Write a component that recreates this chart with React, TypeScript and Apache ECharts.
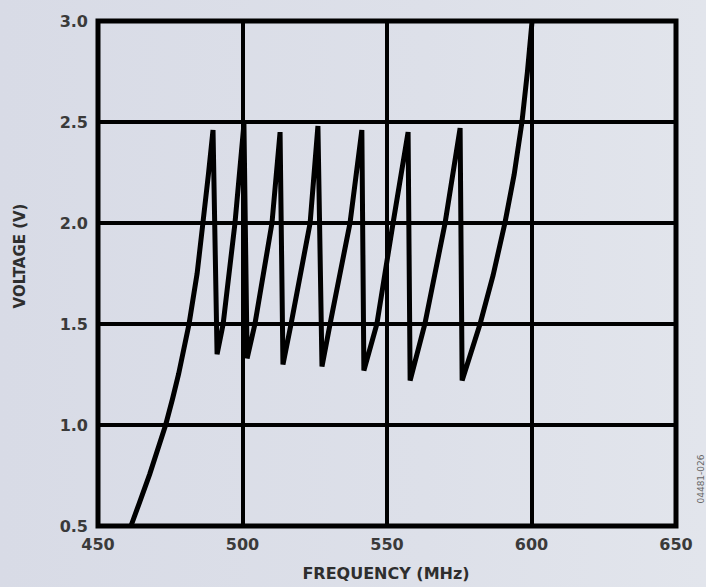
import React, { useEffect, useRef } from "react";
import * as echarts from "echarts";

// Tuning curve (frequency in MHz, voltage in V)
const freqMHz = [
  461.4, 464.2, 467.9, 473.4, 475.8, 477.9, 481.5, 484.3, 486.3, 488.2, 489.8,
  491.2, 493.3, 497.4, 500.5,
  501.6, 504.3, 510.2, 513.0,
  514.0, 516.8, 523.4, 526.1,
  527.5, 530.3, 537.2, 541.3,
  542.0, 546.5, 552.1, 557.3,
  558.0, 563.1, 570.1, 575.3,
  576.0, 582.2, 586.7, 590.8, 594.0, 596.7, 598.6, 600.2,
];
const voltage = [
  0.5, 0.61, 0.757, 1.0, 1.13, 1.253, 1.5, 1.75, 2.0, 2.24, 2.46,
  1.35, 1.5, 2.0, 2.49,
  1.33, 1.5, 2.0, 2.45,
  1.3, 1.5, 2.0, 2.48,
  1.29, 1.5, 2.0, 2.46,
  1.27, 1.5, 2.0, 2.45,
  1.22, 1.5, 2.0, 2.47,
  1.22, 1.5, 1.74, 2.0, 2.24, 2.5, 2.75, 3.0,
];

const xTickLabels = ["450", "500", "550", "600", "650"];
const yTickLabels = ["0.5", "1.0", "1.5", "2.0", "2.5", "3.0"];

const xTitle = "FREQUENCY (MHz)";
const yTitle = "VOLTAGE (V)";
const figureId = "04481-026";

export default function App() {
  const ref = useRef<HTMLDivElement>(null);

  useEffect(() => {
    if (!ref.current) return;
    const chart = echarts.init(ref.current, null, { renderer: "svg" });
    const data = freqMHz.map((f, i) => [f, voltage[i]]);
    const labelFont = {
      fontFamily: "DejaVu Sans",
      fontWeight: "bold" as const,
      fontSize: 16,
      color: "#3a3a3a",
    };
    chart.setOption({
      animation: false,
      backgroundColor: "transparent",
      grid: {
        left: 98,
        right: 30,
        top: 21,
        bottom: 61,
        show: true,
        borderColor: "#000",
        borderWidth: 5,
        backgroundColor: "transparent",
        containLabel: false,
      },
      xAxis: {
        type: "value",
        min: 450,
        max: 650,
        interval: 50,
        axisLine: { show: false },
        axisTick: { show: false },
        axisLabel: {
          ...labelFont,
          margin: 10,
          formatter: (v: number) => xTickLabels[Math.round((v - 450) / 50)] ?? "",
        },
        splitLine: { show: true, lineStyle: { color: "#000", width: 4 } },
      },
      yAxis: {
        type: "value",
        min: 0.5,
        max: 3.0,
        interval: 0.5,
        axisLine: { show: false },
        axisTick: { show: false },
        axisLabel: {
          ...labelFont,
          margin: 10,
          formatter: (v: number) => yTickLabels[Math.round((v - 0.5) / 0.5)] ?? "",
        },
        splitLine: { show: true, lineStyle: { color: "#000", width: 4 } },
      },
      series: [
        {
          type: "line",
          data,
          showSymbol: false,
          symbol: "none",
          smooth: false,
          lineStyle: { color: "#000", width: 5, cap: "butt", join: "miter" },
          z: 5,
        },
      ],
      graphic: [
        {
          type: "text",
          x: 386,
          y: 573,
          style: {
            text: xTitle,
            fontFamily: "DejaVu Sans",
            fontWeight: "bold",
            fontSize: 16,
            fill: "#2e2e2e",
            textAlign: "center",
            textVerticalAlign: "middle",
          },
        },
        {
          type: "text",
          x: 20,
          y: 256,
          rotation: Math.PI / 2,
          style: {
            text: yTitle,
            fontFamily: "DejaVu Sans",
            fontWeight: "bold",
            fontSize: 15,
            fill: "#2e2e2e",
            textAlign: "center",
            textVerticalAlign: "middle",
          },
        },
        {
          type: "text",
          x: 701,
          y: 479,
          rotation: Math.PI / 2,
          style: {
            text: figureId,
            fontFamily: "DejaVu Sans",
            fontSize: 9,
            fill: "#666",
            textAlign: "center",
            textVerticalAlign: "middle",
          },
        },
      ],
    });
    return () => chart.dispose();
  }, []);

  return (
    <div
      ref={ref}
      style={{
        position: "fixed",
        left: 0,
        top: 0,
        width: 706,
        height: 587,
        background: "linear-gradient(90deg, #d8dbe6 0%, #dde0e9 60%, #e2e5ec 100%)",
      }}
    />
  );
}
